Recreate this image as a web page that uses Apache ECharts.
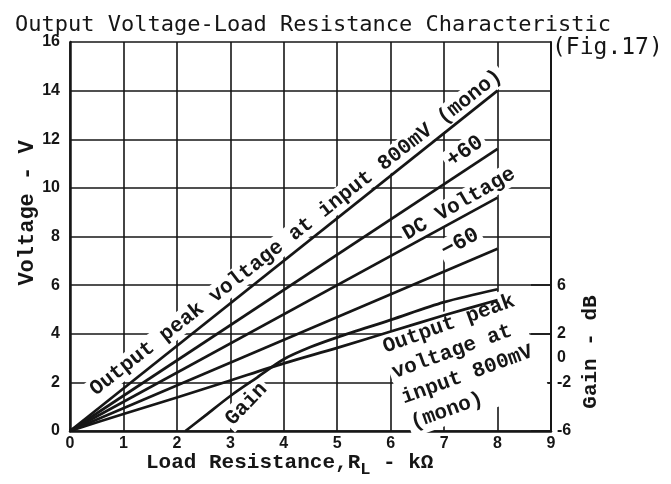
<!DOCTYPE html>
<html>
<head>
<meta charset="utf-8">
<script src="https://cdn.jsdelivr.net/npm/echarts@6/dist/echarts.min.js"></script>
<style>
  html, body { margin: 0; padding: 0; background: #fff; }
  #chart { width: 671px; height: 484px; }
</style>
</head>
<body>
<div id="chart"></div>
<script>
// straight lines from the origin, read at x = 0 and x = 8
const lineX = [0, 8]
const peakMono = [0, 14]
const plus60 = [0, 11.6]
const dcVoltage = [0, 9.6]
const minus60 = [0, 7.5]

// lower output peak curve (V)
const lowX = [0, 1, 2, 3, 4, 5, 6, 7, 8]
const lowPeak = [0, 0.7, 1.38, 2.08, 2.78, 3.42, 4.09, 4.76, 5.39]

// gain curve (dB, right axis)
const gainX = [2.16, 2.5, 3, 3.5, 4, 4.5, 5, 6, 7, 8]
const gainDb = [-6, -4.84, -3.12, -1.6, -0.1, 0.9, 1.7, 3.14, 4.6, 5.66]

const gainLabels = [-6, -2, 0, 2, 6]
const gainTicks = [-6, -2, 2, 6]

const ink = '#161616'
const mono = '"Liberation Mono", "DejaVu Sans Mono", monospace'
const tickFont = '"Liberation Sans Narrow", "Liberation Sans", Arial, sans-serif'

const pairs = (xs, ys) => xs.map((x, i) => [x, ys[i]])

const lineSeries = (name, data, yAxisIndex) => ({
  name,
  type: 'line',
  data,
  yAxisIndex: yAxisIndex || 0,
  showSymbol: false,
  smooth: 0.3,
  z: 10,
  lineStyle: { color: ink, width: 2.7 },
  emphasis: { disabled: true },
})

var myChart = echarts.init(document.getElementById('chart'))
const option = {
  animation: false,
  title: {
    text: 'Output Voltage-Load Resistance Characteristic',
    left: 10,
    top: 9,
    textStyle: { fontFamily: '"DejaVu Sans Mono", monospace', fontSize: 22, fontWeight: 'normal', color: ink },
  },
  grid: { left: 70, right: 120, top: 42, bottom: 53 },
  xAxis: {
    type: 'value',
    min: 0,
    max: 9,
    interval: 1,
    axisLine: { lineStyle: { color: ink, width: 2.5 } },
    axisTick: { show: false },
    axisLabel: { color: ink, fontFamily: tickFont, fontWeight: 'bold', fontSize: 16, margin: 5 },
    splitLine: { lineStyle: { color: ink, width: 1.6 } },
  },
  yAxis: [
    {
      type: 'value',
      min: 0,
      max: 16,
      interval: 2,
      axisLine: { show: true, lineStyle: { color: ink, width: 2.5 } },
      axisTick: { show: false },
      axisLabel: { color: ink, fontFamily: tickFont, fontWeight: 'bold', fontSize: 16, margin: 10 },
      splitLine: { lineStyle: { color: ink, width: 1.6 } },
    },
    {
      type: 'value',
      position: 'right',
      min: -6,
      max: 26,
      interval: 2,
      axisLine: { show: true, lineStyle: { color: ink, width: 2 } },
      axisTick: { show: true, inside: true, length: 20, customValues: gainTicks, lineStyle: { color: ink, width: 1.6 } },
      axisLabel: { color: ink, fontFamily: tickFont, fontWeight: 'bold', fontSize: 16, margin: 6, customValues: gainLabels },
      splitLine: { show: false },
    },
  ],
  series: [
    lineSeries('Output peak voltage at input 800mV (mono)', pairs(lineX, peakMono)),
    lineSeries('+60', pairs(lineX, plus60)),
    lineSeries('DC Voltage', pairs(lineX, dcVoltage)),
    lineSeries('-60', pairs(lineX, minus60)),
    lineSeries('Output peak voltage at input 800mV (mono) low', pairs(lowX, lowPeak)),
    lineSeries('Gain', pairs(gainX, gainDb), 1),
  ],
}
myChart.setOption(option)

// annotations placed in data coordinates
const at = (x, v) => myChart.convertToPixel({ xAxisIndex: 0, yAxisIndex: 0 }, [x, v])
const deg = (d) => (d * Math.PI) / 180
const note = (text, x, v, angle, size) => {
  const p = at(x, v)
  return {
    type: 'text',
    x: p[0],
    y: p[1],
    rotation: deg(angle),
    z: 5,
    style: {
      text,
      fill: ink,
      font: 'bold ' + (size || 21) + 'px ' + mono,
      align: 'center',
      verticalAlign: 'middle',
      backgroundColor: '#fff',
      padding: [1, 3],
    },
  }
}

const lowNote = (() => {
  const p = at(5.73, 3.9)
  return {
    type: 'text',
    x: p[0],
    y: p[1],
    rotation: deg(20),
    z: 5,
    style: {
      text: 'Output peak\nvoltage at\ninput 800mV\n(mono)',
      fill: ink,
      font: 'bold 21px ' + mono,
      lineHeight: 27,
      align: 'left',
      verticalAlign: 'top',
      backgroundColor: '#fff',
      padding: [0, 3],
    },
  }
})()

myChart.setOption({
  graphic: [
    note('Output peak voltage at input 800mV (mono)', 4.23, 8.15, 38),
    note('+60', 7.39, 11.5, 35, 22),
    note('DC Voltage', 7.28, 9.34, 30),
    note('\u221260', 7.3, 7.74, 28, 22),
    note('Gain', 3.3, 1.1, 46),
    lowNote,
    {
      type: 'text', left: 552, top: 37,
      style: { text: '(Fig.17)', fill: ink, font: '23px "DejaVu Sans Mono", monospace' },
    },
    {
      type: 'text', x: 27, y: 213, rotation: deg(90),
      style: { text: 'Voltage - V', fill: ink, font: 'bold 22px ' + mono, align: 'center', verticalAlign: 'middle' },
    },
    {
      type: 'text', x: 591, y: 352, rotation: deg(90),
      style: { text: 'Gain - dB', fill: ink, font: 'bold 21px ' + mono, align: 'center', verticalAlign: 'middle' },
    },
    {
      type: 'text', left: 146, top: 452,
      style: {
        text: '{m|Load Resistance,R}{s|L}{m| - k\u03a9}',
        rich: {
          m: { fill: ink, font: 'bold 21px ' + mono, verticalAlign: 'top' },
          s: { fill: ink, font: 'bold 17px ' + mono, verticalAlign: 'top', padding: [9, 0, 0, 0] },
        },
      },
    },
  ],
})
</script>
</body>
</html>
